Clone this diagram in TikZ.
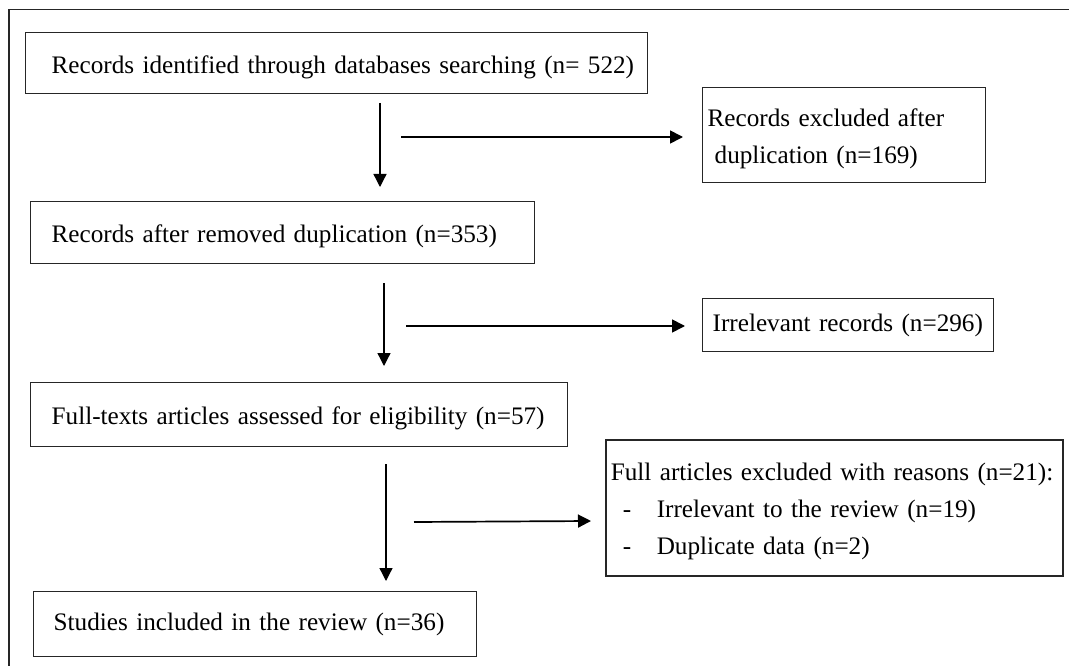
\documentclass[tikz,border=0pt]{standalone}
\usepackage{fontspec}
\setmainfont{Liberation Serif}
\usetikzlibrary{arrows.meta}
\newcommand{\diafont}{\fontsize{25.2}{37}\selectfont}
\newcommand{\lowered}[1]{\raisebox{-4pt}[\height][\depth]{#1}}
\tikzset{
  box/.style={draw=black!85, line width=1.3pt, inner xsep=0pt, inner ysep=0pt,
    align=left, anchor=north west, font=\diafont},
  flow/.style={line width=1.3pt, -{Triangle[length=13pt,width=13pt]}},
  side/.style={line width=1.7pt, -{Triangle[length=13pt,width=13pt]}},
  frame/.style={line width=1.6pt, draw=black!85}
}
\begin{document}
\begin{tikzpicture}[x=1pt,y=-1pt]
\useasboundingbox (0,0) rectangle (1069,666);
\coordinate (fa) at (9,666);
\coordinate (fb) at (9,9.5);
\coordinate (fc) at (1069,9.5);
\draw[frame] (fa) -- (fb) -- (fc);

\node[box, text width=622pt, minimum height=61pt] (b1) at (25,32)
  {\hspace*{26pt}\lowered{Records identified through databases searching (n= 522)}};
\node[box, text width=283pt, minimum height=95pt] (b2) at (702,87)
  {\hspace*{5pt}\lowered{Records excluded after}\\\hspace*{12pt}\lowered{duplication (n=169)}};
\node[box, text width=504pt, minimum height=62pt] (b3) at (30,201)
  {\hspace*{21pt}\lowered{Records after removed duplication (n=353)}};
\node[box, text width=291pt, minimum height=53pt] (b4) at (702,298)
  {\hspace*{10pt}Irrelevant records (n=296)};
\node[box, text width=537pt, minimum height=64pt] (b5) at (30,382)
  {\hspace*{21pt}\lowered{Full-texts articles assessed for eligibility (n=57)}};
\node[box, text width=457pt, minimum height=136pt, line width=1.6pt] (b6) at (605,439)
  {\hspace*{5pt}\lowered{Full articles excluded with reasons (n=21):}\\
   \hspace*{17pt}\lowered{\makebox[34pt][l]{-}Irrelevant to the review (n=19)}\\
   \hspace*{17pt}\lowered{\makebox[34pt][l]{-}Duplicate data (n=2)}};
\node[box, text width=443pt, minimum height=65pt] (b7) at (33,591)
  {\hspace*{20pt}Studies included in the review (n=36)};

\coordinate (v1a) at (380,103); \coordinate (v1b) at (380,187);
\coordinate (h1a) at (401,137); \coordinate (h1b) at (683,137);
\coordinate (v2a) at (384,283); \coordinate (v2b) at (384,366);
\coordinate (h2a) at (406,326); \coordinate (h2b) at (685,326);
\coordinate (v3a) at (386,464); \coordinate (v3b) at (386,581);
\coordinate (h3a) at (414,522); \coordinate (h3b) at (591,521);

\draw[flow] (v1a) -- (v1b);
\draw[side] (h1a) -- (h1b);
\draw[flow] (v2a) -- (v2b);
\draw[side] (h2a) -- (h2b);
\draw[flow] (v3a) -- (v3b);
\draw[side] (h3a) -- (h3b);
\end{tikzpicture}
\end{document}
